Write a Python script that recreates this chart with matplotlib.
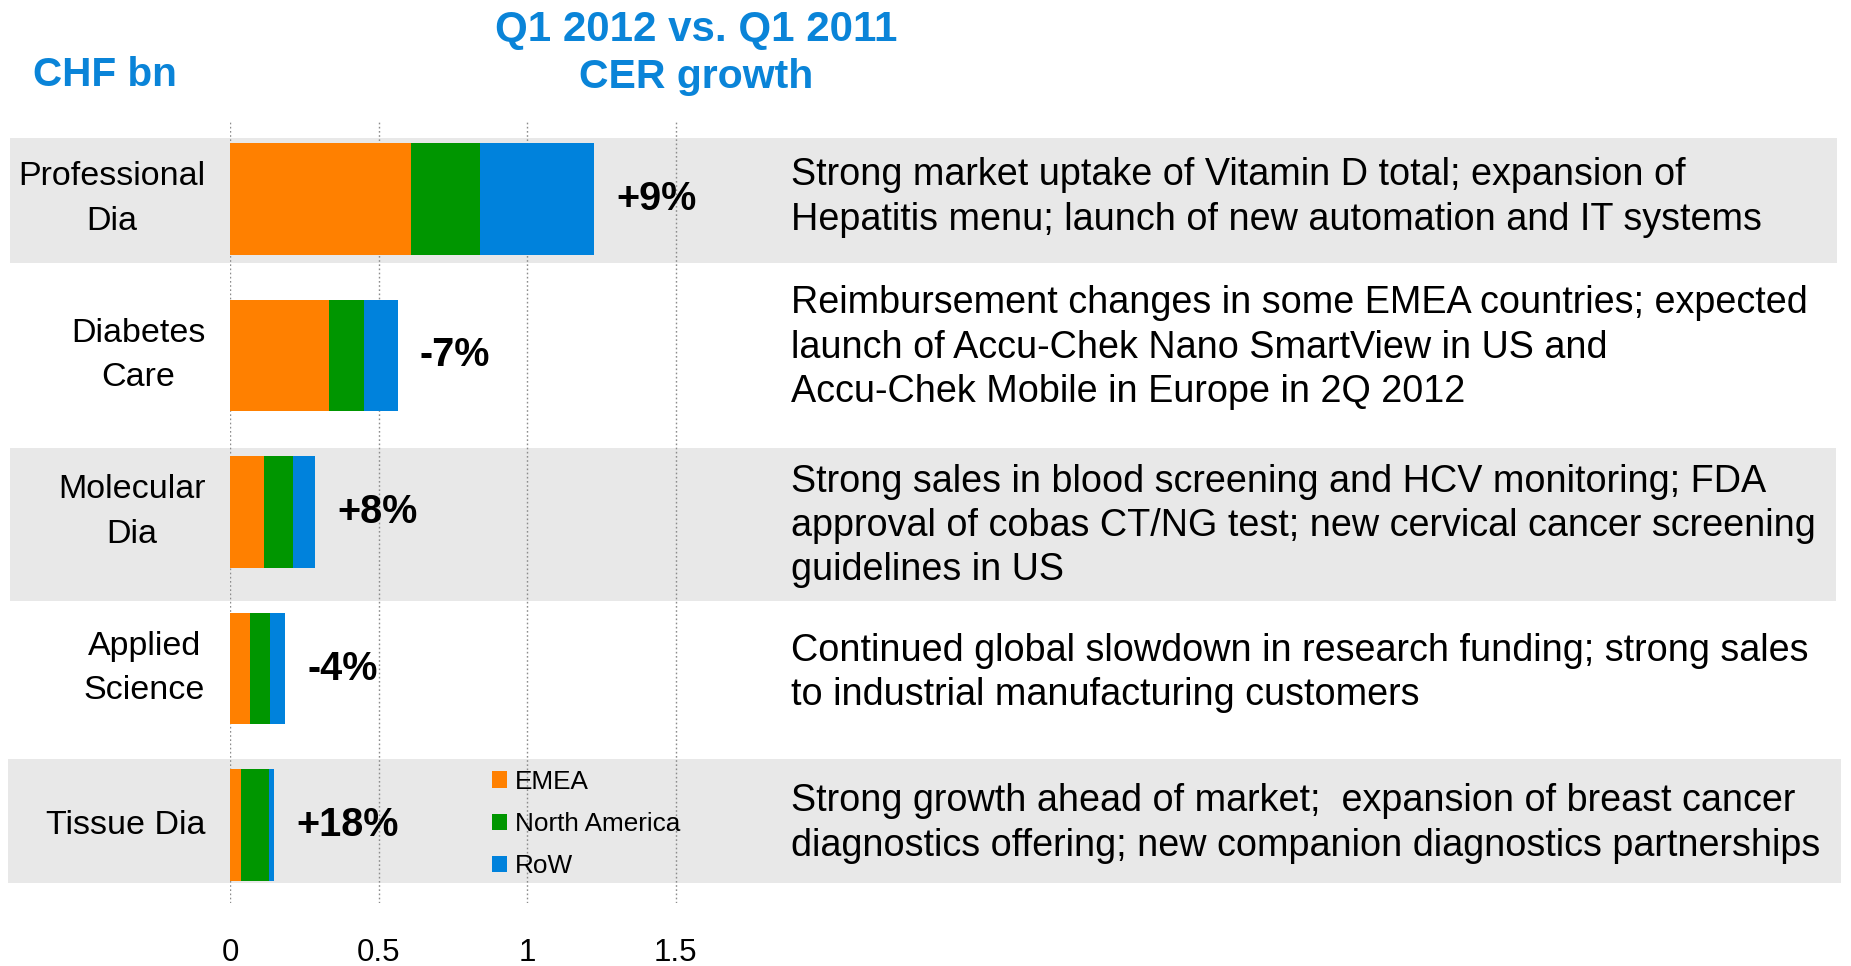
import matplotlib
matplotlib.use("Agg")
import matplotlib.pyplot as plt
from matplotlib import font_manager as fm
from matplotlib import transforms
from matplotlib.patches import Rectangle

# ---------------- data ----------------
categories = ["Professional\nDia", "Diabetes\nCare", "Molecular\nDia", "Applied\nScience", "Tissue Dia"]
emea = [0.61, 0.333, 0.112, 0.066, 0.036]
north_america = [0.23, 0.119, 0.100, 0.069, 0.093]
row = [0.384, 0.112, 0.073, 0.049, 0.018]
growth = ["+9%", "-7%", "+8%", "-4%", "+18%"]
series_names = ["EMEA", "North America", "RoW"]
descriptions = [
    "Strong market uptake of Vitamin D total; expansion of\nHepatitis menu; launch of new automation and IT systems",
    "Reimbursement changes in some EMEA countries; expected\nlaunch of Accu-Chek Nano SmartView in US and\nAccu-Chek Mobile in Europe in 2Q 2012",
    "Strong sales in blood screening and HCV monitoring; FDA\napproval of cobas CT/NG test; new cervical cancer screening\nguidelines in US",
    "Continued global slowdown in research funding; strong sales\nto industrial manufacturing customers",
    "Strong growth ahead of market;  expansion of breast cancer\ndiagnostics offering; new companion diagnostics partnerships",
]
xticks = [0, 0.5, 1, 1.5]
xtick_labels = ["0", "0.5", "1", "1.5"]
title_main = "Q1 2012 vs. Q1 2011\nCER growth"
unit_label = "CHF bn"

# ---------------- style ----------------
c_orange = "#FF8000"
c_green = "#009600"
c_blue = "#0082DC"
c_title = "#0A84D8"
c_band = "#E8E8E8"

avail = {f.name for f in fm.fontManager.ttflist}
BASE = "Liberation Sans" if "Liberation Sans" in avail else "DejaVu Sans"
if "Liberation Sans Narrow" in avail:
    DESC_FONT, DESC_SIZE = "Liberation Sans Narrow", 33
else:
    DESC_FONT, DESC_SIZE = BASE, 27.2
plt.rcParams["font.family"] = [BASE, "DejaVu Sans"]

W, H = 1851, 966
fig = plt.figure(figsize=(W / 100, H / 100), dpi=100)
fig.patch.set_facecolor("white")

# axes: x=0 at px 230.3, 1 unit = 296.9 px; rows 156.5 px apart
x0_px, unit_px = 230.3, 296.9
row_px, top_px = 156.5, 120.75
ax_left = x0_px / W
ax_w = 1 - ax_left
ax_h = 5 * row_px / H
ax_bottom = 1 - (top_px + 5 * row_px) / H
ax = fig.add_axes([ax_left, ax_bottom, ax_w, ax_h])
ax.set_xlim(0, (W - x0_px) / unit_px)
ax.set_ylim(4.5, -0.5)
ax.set_facecolor("none")
for s in ax.spines.values():
    s.set_visible(False)

# grey bands (rows 1, 3, 5)
blend = transforms.blended_transform_factory(fig.transFigure, ax.transData)
bands = [(-0.39, 0.41, 10, 1837), (1.59, 2.57, 10, 1836), (3.58, 4.37, 8, 1841)]
for y0, y1, xa, xb in bands:
    ax.add_patch(Rectangle((xa / W, y0), (xb - xa) / W, y1 - y0, transform=blend,
                           facecolor=c_band, edgecolor="none", zorder=0.1, clip_on=False))

# gridlines
ax.set_xticks(xticks, xtick_labels)
ax.xaxis.grid(True, linestyle=(0, (1.2, 1.8)), color="#8C8C8C", linewidth=1.0, zorder=0.5)
ax.set_axisbelow(True)
ax.tick_params(axis="x", length=0, pad=25, labelsize=22.5, labelcolor="black")

# stacked bars
ypos = list(range(len(categories)))
bh = 0.71
left2 = [a + b for a, b in zip(emea, north_america)]
b1 = ax.barh(ypos, emea, height=bh, color=c_orange, label=series_names[0], zorder=2)
b2 = ax.barh(ypos, north_america, left=emea, height=bh, color=c_green, label=series_names[1], zorder=2)
b3 = ax.barh(ypos, row, left=left2, height=bh, color=c_blue, label=series_names[2], zorder=2)
ax.bar_label(b3, labels=growth, padding=16, fontsize=28.5, fontweight="bold", color="black")

# category labels
ax.set_yticks(ypos, categories)
ax.tick_params(axis="y", length=0, pad=18, labelsize=24.5, labelcolor="black")
for lbl in ax.get_yticklabels():
    lbl.set_multialignment("center")
    lbl.set_linespacing(1.56)
    lbl.set_verticalalignment("center")

# right-hand descriptions
desc_offsets = [-0.01, -0.05, 0.09, 0.03, -0.01]
for i, (txt, off) in enumerate(zip(descriptions, desc_offsets)):
    ax.text(791 / W, i + off, txt, transform=blend, ha="left", va="center",
            fontsize=DESC_SIZE, family=[DESC_FONT, "DejaVu Sans"], color="black",
            linespacing=1.30)

# legend
leg = ax.legend(handles=[b1, b2, b3], loc="center left",
                bbox_to_anchor=(492 / W, (H - 824) / H), bbox_transform=fig.transFigure,
                frameon=False, fontsize=18.8, handlelength=0.58, handleheight=0.58,
                handletextpad=0.3, labelspacing=0.7, borderpad=0, borderaxespad=0)

# titles
fig.text(696 / W, 1 - 41 / H, title_main.split("\n")[0], ha="center", va="baseline",
         fontsize=30.3, fontweight="bold", color=c_title)
fig.text(696 / W, 1 - 88 / H, title_main.split("\n")[1], ha="center", va="baseline",
         fontsize=29.5, fontweight="bold", color=c_title)
fig.text(33 / W, 1 - 86 / H, unit_label, ha="left", va="baseline",
         fontsize=29.2, fontweight="bold", color=c_title)

fig.savefig("out.png", dpi=100, facecolor="white")
